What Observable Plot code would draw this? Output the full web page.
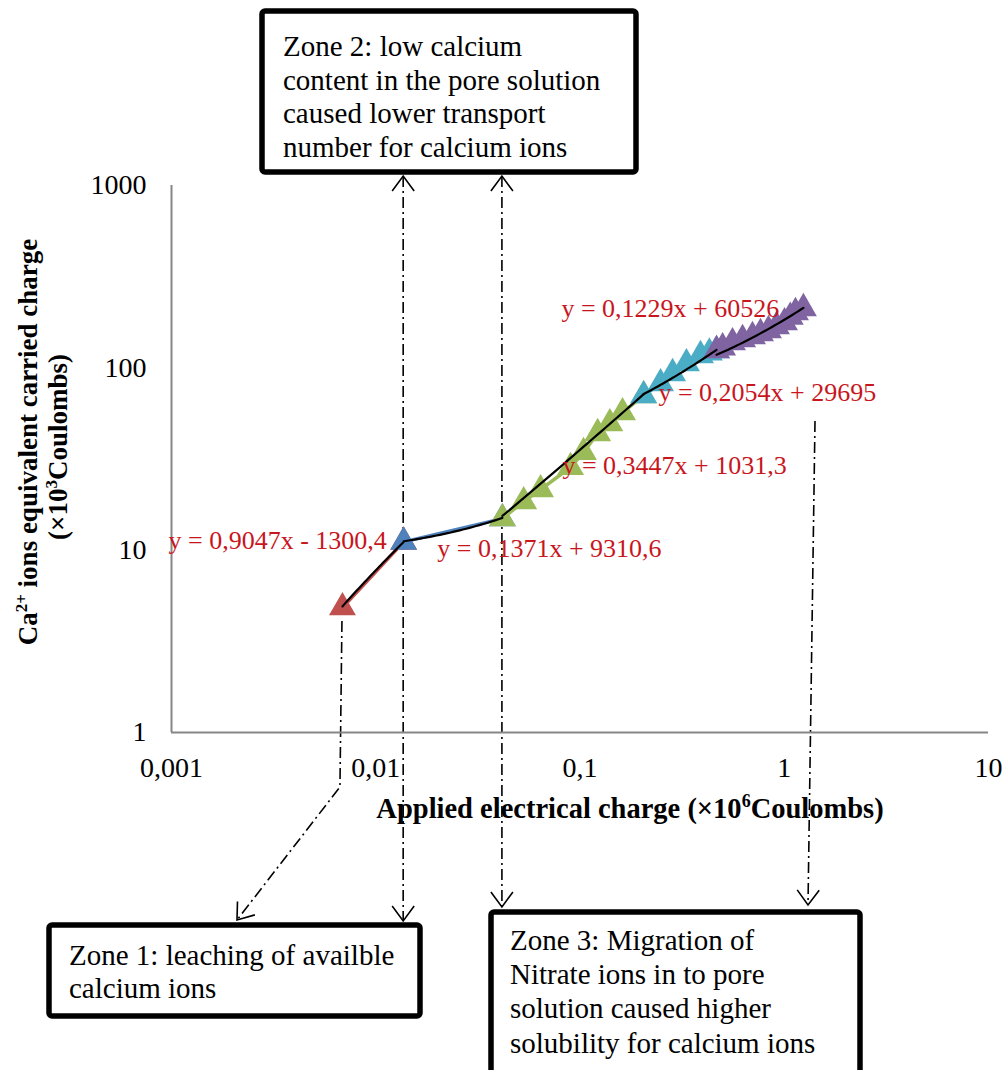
<!DOCTYPE html>
<html>
<head>
<meta charset="utf-8">
<script src="https://cdn.jsdelivr.net/npm/d3@7"></script>
<script src="https://cdn.jsdelivr.net/npm/@observablehq/plot@0.6"></script>
<style>
  html, body { margin: 0; padding: 0; background: #fff; }
  #chart { width: 1003px; height: 1070px; overflow: hidden; }
  svg { display: block; }
</style>
</head>
<body>
<div id="chart"></div>
<script>
// Applied charge (×10^6 C) vs Ca2+ equivalent carried charge (×10^3 C), per zone segment.
// Each segment starts where the previous one ends.
const redPoints = [[0.00687, 4.85], [0.0137, 11.1]];
const bluePoints = [[0.0137, 11.1], [0.0417, 14.9]];
const greenPoints = [
  [0.0417, 14.9], [0.0530, 18.5], [0.0641, 21.5], [0.0899, 28.5],
  [0.104, 34.4], [0.122, 43.7], [0.140, 49.5], [0.1615, 56.9], [0.205, 70.5]
];
const cyanPoints = [
  [0.205, 70.5], [0.248, 82.1], [0.284, 93.2], [0.332, 105.7],
  [0.389, 117], [0.430, 121], [0.466, 124.6]
];
const purplePoints = [
  [0.466, 124.6], [0.499, 129], [0.558, 137.8], [0.625, 143.2], [0.699, 148.7],
  [0.765, 154.5], [0.837, 160.4], [0.916, 168.7], [1.003, 177.4], [1.07, 190],
  [1.135, 201.4], [1.241, 211.8]
];

const segmentColors = ["#C0504D", "#4F81BD", "#9BBB59", "#4BACC6", "#8064A2"];

// Linear trendlines fitted in raw Coulombs: y = slope * x + intercept
const fitSlope = [0.9047, 0.1371, 0.3447, 0.2054, 0.1229];
const fitIntercept = [-1300.4, 9310.6, 1031.3, 29695, 60526];
const fitLabels = [
  "y = 0,9047x - 1300,4",
  "y = 0,1371x + 9310,6",
  "y = 0,3447x + 1031,3",
  "y = 0,2054x + 29695",
  "y = 0,1229x + 60526"
];
// where each equation label sits (left edge x, middle y), in axis units
const fitLabelX = [0.000967, 0.0200, 0.082, 0.242, 0.0811];
const fitLabelY = [11.3, 10.2, 29.2, 73.3, 211.8];

const xTicks = [0.001, 0.01, 0.1, 1, 10];
const yTicks = [1, 10, 100, 1000];

const segments = [redPoints, bluePoints, greenPoints, cyanPoints, purplePoints];

const rows = segments.flatMap((pts, i) => pts.map(([x, y]) => ({x, y, seg: i})));

// trendline samples over each segment's x range, evaluated from its equation
const trendRows = segments.flatMap((pts, i) => {
  const x0 = pts[0][0], x1 = pts[pts.length - 1][0];
  const n = 30;
  return d3.range(n + 1).map(k => {
    const x = x0 * Math.pow(x1 / x0, k / n);
    return {x, y: (fitSlope[i] * x * 1e6 + fitIntercept[i]) / 1e3, seg: i};
  });
});

const labelRows = fitLabels.map((t, i) => ({text: t, x: fitLabelX[i], y: fitLabelY[i]}));

const comma = d => String(d).replace(".", ",");
const serif = "'Liberation Serif', 'Times New Roman', Times, serif";

const segMarks = segments.flatMap((pts, i) => {
  const data = rows.filter(r => r.seg === i);
  return [
    Plot.line(data, {x: "x", y: "y", stroke: segmentColors[i], strokeWidth: 3.5}),
    Plot.dot(data, {x: "x", y: "y", symbol: "triangle", r: 10, fill: segmentColors[i], stroke: "none"})
  ];
});

const chart = Plot.plot({
  width: 1003,
  height: 1070,
  marginLeft: 171,
  marginRight: 15,
  marginTop: 185,
  marginBottom: 338,
  style: {fontFamily: serif, fontSize: "28px", color: "#000", background: "transparent", overflow: "visible"},
  x: {type: "log", domain: [0.001, 10]},
  y: {type: "log", domain: [1, 1000]},
  marks: [
    Plot.ruleX([0.001], {stroke: "#868686", strokeWidth: 2}),
    Plot.ruleY([1], {stroke: "#868686", strokeWidth: 2}),
    Plot.axisX({ticks: xTicks, tickFormat: comma, tickSize: 0, tickPadding: 25, label: null, fontSize: 28}),
    Plot.axisY({ticks: yTicks, tickFormat: comma, tickSize: 0, tickPadding: 25, label: null, fontSize: 28}),
    ...segMarks,
    Plot.line(trendRows, {x: "x", y: "y", z: "seg", stroke: "#000", strokeWidth: 2.2}),
    Plot.text(labelRows, {x: "x", y: "y", text: "text", textAnchor: "start", fill: "#C8161D", fontSize: 26})
  ]
});

document.getElementById("chart").appendChild(chart);

// ---- annotations: zone boxes, dash-dot leader arrows, axis titles ----
const svg = d3.select(chart);
const sx = chart.scale("x");
const under = svg.insert("g", "g").attr("fill", "none");
const over = svg.append("g").attr("text-anchor", "start");

const dash = "11,4,2,4";
function leader(points) {
  under.append("path")
    .attr("d", d3.line()(points))
    .attr("stroke", "#000").attr("stroke-width", 1.6).attr("stroke-dasharray", dash);
}
function head(tip, from) {
  const dx = tip[0] - from[0], dy = tip[1] - from[1];
  const L = Math.hypot(dx, dy), ux = dx / L, uy = dy / L;
  const len = 15, half = 11;
  const bx = tip[0] - ux * len, by = tip[1] - uy * len;
  const px = -uy, py = ux;
  over.append("path")
    .attr("d", `M${bx + px * half},${by + py * half}L${tip[0]},${tip[1]}L${bx - px * half},${by - py * half}`)
    .attr("fill", "none").attr("stroke", "#000").attr("stroke-width", 1.6);
}

const xRed = sx.apply(redPoints[0][0]);
const xBlue = sx.apply(bluePoints[0][0]);
const xGreen = sx.apply(greenPoints[0][0]);

// zone 1 leader from the first point
const a1 = [[xRed, 621], [xRed - 2, 787], [237, 920]];
leader(a1); head(a1[2], a1[1]);
// boundary between zone 1 and zone 2
leader([[xBlue, 176], [xBlue, 921]]);
head([xBlue, 176], [xBlue, 300]); head([xBlue, 921], [xBlue, 800]);
// boundary between zone 2 and zone 3
leader([[xGreen, 176], [xGreen, 907]]);
head([xGreen, 176], [xGreen, 300]); head([xGreen, 907], [xGreen, 800]);
// zone 3 leader
const a4 = [[815, 421], [808, 905]];
leader(a4); head(a4[1], a4[0]);

function box(x, y, w, h, lines, tx, ty0, lh) {
  over.append("rect").attr("x", x).attr("y", y).attr("width", w).attr("height", h)
    .attr("rx", 3).attr("fill", "#fff").attr("stroke", "#000").attr("stroke-width", 5.5);
  const t = over.append("text").attr("font-family", serif).attr("font-size", 29)
    .attr("text-anchor", "start").attr("fill", "#000");
  lines.forEach((s, i) => {
    t.append("tspan").attr("x", tx).attr("y", ty0 + i * lh).attr("dy", "0.34em").text(s);
  });
}

box(262, 11, 374, 161,
  ["Zone 2: low calcium", "content in the pore solution", "caused lower transport", "number for calcium ions"],
  283, 46, 33.7);
box(49, 925, 371, 91,
  ["Zone 1: leaching of availble", "calcium ions"],
  69, 955, 33.5);
box(491, 912, 369, 175,
  ["Zone 3: Migration of", "Nitrate ions in to pore", "solution caused higher", "solubility for calcium ions"],
  510, 940, 34.3);

// axis titles
const xt = over.append("text").attr("x", 630).attr("y", 818).attr("text-anchor", "middle")
  .attr("font-family", serif).attr("font-weight", "bold").attr("font-size", 28.5).attr("fill", "#000");
xt.append("tspan").text("Applied electrical charge (×10");
xt.append("tspan").attr("font-size", 18).attr("dy", -11).text("6");
xt.append("tspan").attr("dy", 11).text("Coulombs)");

const yt1 = over.append("text").attr("transform", "translate(37,442) rotate(-90)").attr("text-anchor", "middle")
  .attr("font-family", serif).attr("font-weight", "bold").attr("font-size", 27).attr("fill", "#000");
yt1.append("tspan").text("Ca");
yt1.append("tspan").attr("font-size", 17).attr("dy", -10).text("2+");
yt1.append("tspan").attr("dy", 10).text(" ions equivalent carried charge");

const yt2 = over.append("text").attr("transform", "translate(67,447) rotate(-90)").attr("text-anchor", "middle")
  .attr("font-family", serif).attr("font-weight", "bold").attr("font-size", 27).attr("fill", "#000");
yt2.append("tspan").text("(×10");
yt2.append("tspan").attr("font-size", 17).attr("dy", -10).text("3");
yt2.append("tspan").attr("dy", 10).text("Coulombs)");
</script>
</body>
</html>
